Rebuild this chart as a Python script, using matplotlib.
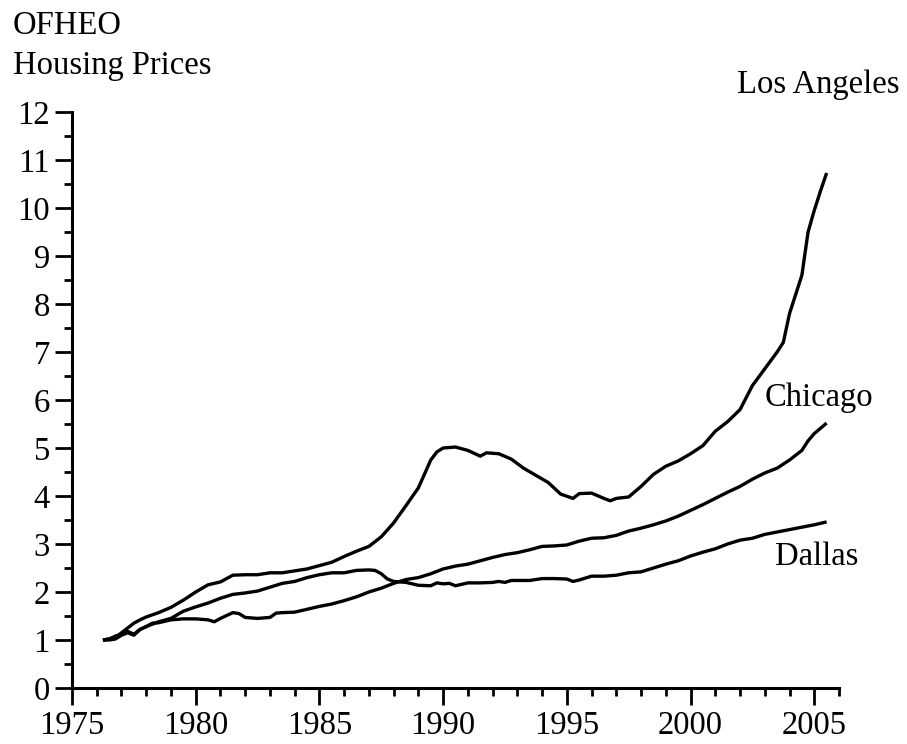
import matplotlib
matplotlib.use("Agg")
import matplotlib.pyplot as plt
from matplotlib.ticker import MultipleLocator

# ---- data ----
la_years = [1976.25, 1976.5, 1976.75, 1977.0, 1977.25, 1977.5, 1977.75, 1978.0, 1978.5, 1979.0,
            1979.5, 1980.0, 1980.5, 1981.0, 1981.5, 1982.0, 1982.5, 1983.0, 1983.5, 1984.0,
            1984.5, 1985.0, 1985.5, 1986.0, 1986.5, 1987.0, 1987.5, 1988.0, 1988.5, 1989.0,
            1989.5, 1989.75, 1990.0, 1990.5, 1991.0, 1991.5, 1991.75, 1992.25, 1992.75, 1993.25,
            1993.75, 1994.25, 1994.75, 1995.25, 1995.5, 1996.0, 1996.5, 1996.75, 1997.0, 1997.5,
            1998.0, 1998.5, 1999.0, 1999.5, 2000.0, 2000.5, 2001.0, 2001.5, 2002.0, 2002.5,
            2003.0, 2003.5, 2003.75, 2004.0, 2004.25, 2004.5, 2004.75, 2005.0, 2005.25, 2005.5]
la_values = [1.00, 1.02, 1.05, 1.15, 1.25, 1.35, 1.42, 1.48, 1.57, 1.68,
             1.83, 2.00, 2.15, 2.21, 2.35, 2.36, 2.36, 2.40, 2.40, 2.44,
             2.48, 2.55, 2.62, 2.74, 2.85, 2.95, 3.15, 3.44, 3.80, 4.17,
             4.75, 4.92, 5.00, 5.02, 4.95, 4.83, 4.90, 4.88, 4.77, 4.58,
             4.43, 4.28, 4.04, 3.95, 4.05, 4.06, 3.95, 3.90, 3.95, 3.98,
             4.20, 4.45, 4.62, 4.73, 4.88, 5.05, 5.35, 5.55, 5.80, 6.30,
             6.65, 7.00, 7.20, 7.80, 8.20, 8.60, 9.50, 9.95, 10.35, 10.73]

chi_years = [1976.25, 1976.5, 1976.75, 1977.0, 1977.25, 1977.5, 1977.75, 1978.0, 1978.25, 1978.5,
             1979.0, 1979.5, 1980.0, 1980.5, 1980.75, 1981.0, 1981.5, 1981.75, 1982.0, 1982.5,
             1983.0, 1983.25, 1983.5, 1984.0, 1984.5, 1985.0, 1985.5, 1986.0, 1986.5, 1987.0,
             1987.5, 1988.0, 1988.5, 1989.0, 1989.5, 1990.0, 1990.5, 1991.0, 1991.5, 1992.0,
             1992.5, 1993.0, 1993.5, 1994.0, 1994.5, 1995.0, 1995.5, 1996.0, 1996.5, 1997.0,
             1997.5, 1998.0, 1998.5, 1999.0, 1999.5, 2000.0, 2000.5, 2001.0, 2001.5, 2002.0,
             2002.5, 2003.0, 2003.5, 2004.0, 2004.5, 2004.75, 2005.0, 2005.5]
chi_values = [1.00, 1.00, 1.02, 1.10, 1.15, 1.10, 1.22, 1.28, 1.35, 1.36,
              1.42, 1.44, 1.44, 1.42, 1.38, 1.45, 1.57, 1.55, 1.47, 1.45,
              1.47, 1.56, 1.57, 1.58, 1.64, 1.70, 1.75, 1.82, 1.90, 2.00,
              2.08, 2.18, 2.26, 2.30, 2.38, 2.48, 2.54, 2.58, 2.65, 2.72,
              2.78, 2.82, 2.88, 2.95, 2.96, 2.98, 3.06, 3.12, 3.13, 3.18,
              3.27, 3.33, 3.40, 3.48, 3.58, 3.70, 3.82, 3.95, 4.08, 4.20,
              4.35, 4.48, 4.58, 4.75, 4.95, 5.15, 5.30, 5.52]

dal_years = [1976.25, 1976.5, 1976.75, 1977.0, 1977.25, 1977.5, 1977.75, 1978.0, 1978.5, 1979.0,
             1979.5, 1980.0, 1980.5, 1981.0, 1981.5, 1982.0, 1982.5, 1983.0, 1983.5, 1984.0,
             1984.5, 1985.0, 1985.5, 1986.0, 1986.5, 1987.0, 1987.25, 1987.5, 1987.75, 1988.0,
             1988.5, 1989.0, 1989.5, 1989.75, 1990.0, 1990.25, 1990.5, 1990.75, 1991.0, 1991.5,
             1992.0, 1992.25, 1992.5, 1992.75, 1993.0, 1993.5, 1994.0, 1994.5, 1995.0, 1995.25,
             1995.5, 1996.0, 1996.5, 1997.0, 1997.5, 1998.0, 1998.5, 1999.0, 1999.5, 2000.0,
             2000.5, 2001.0, 2001.5, 2002.0, 2002.5, 2003.0, 2003.5, 2004.0, 2004.5, 2005.0,
             2005.5]
dal_values = [1.00, 1.02, 1.08, 1.12, 1.18, 1.12, 1.22, 1.28, 1.38, 1.45,
              1.60, 1.69, 1.77, 1.87, 1.95, 1.98, 2.02, 2.10, 2.18, 2.22,
              2.30, 2.36, 2.40, 2.40, 2.45, 2.46, 2.45, 2.38, 2.27, 2.22,
              2.20, 2.14, 2.13, 2.19, 2.17, 2.18, 2.13, 2.16, 2.19, 2.19,
              2.20, 2.22, 2.20, 2.24, 2.24, 2.24, 2.28, 2.28, 2.27, 2.22,
              2.25, 2.33, 2.33, 2.35, 2.40, 2.42, 2.50, 2.58, 2.65, 2.75,
              2.83, 2.90, 3.00, 3.08, 3.12, 3.20, 3.25, 3.30, 3.35, 3.40,
              3.46]

city_labels = ["Los Angeles", "Chicago", "Dallas"]
title_lines = ["OFHEO", "Housing Prices"]
x_major = [1975, 1980, 1985, 1990, 1995, 2000, 2005]
y_major = list(range(0, 13))

# ---- figure ----
plt.rcParams['font.family'] = ['Liberation Serif', 'DejaVu Serif']
fig = plt.figure(figsize=(9.07, 7.44), dpi=100)
ax = fig.add_axes([72 / 907, 1 - 688 / 744, (839 - 72) / 907, (688 - 112) / 744])

lw = 2.4
for xs, ys in [(la_years, la_values), (chi_years, chi_values), (dal_years, dal_values)]:
    ax.plot(xs, ys, color='black', lw=lw, solid_joinstyle='round', solid_capstyle='butt')

ax.set_xlim(1975, 2006)
ax.set_ylim(0, 12)
ax.set_xticks(x_major)
ax.set_xticklabels([str(v) for v in x_major])
ax.set_yticks(y_major)
ax.set_yticklabels([str(v) for v in y_major])
ax.xaxis.set_minor_locator(MultipleLocator(1))
ax.yaxis.set_minor_locator(MultipleLocator(0.5))

for side in ['top', 'right']:
    ax.spines[side].set_visible(False)
for side in ['left', 'bottom']:
    ax.spines[side].set_linewidth(2.2)

fs = 23.5
ax.tick_params(which='major', direction='out', length=12, width=2.0, labelsize=fs, pad=4)
ax.tick_params(which='minor', direction='out', length=6, width=2.0)

# city labels
ax.text(2005.15, 12.56, city_labels[0], fontsize=fs, ha='center', va='center', clip_on=False)
ax.text(2005.2, 6.04, city_labels[1], fontsize=fs, ha='center', va='center')
ax.text(2005.1, 2.73, city_labels[2], fontsize=fs, ha='center', va='center')

# title (two lines, top left)
fig.text(13 / 907, 1 - 26 / 744, title_lines[0], fontsize=fs, ha='left', va='center')
fig.text(13 / 907, 1 - 66 / 744, title_lines[1], fontsize=fs, ha='left', va='center')

fig.savefig("out.png", dpi=100)
